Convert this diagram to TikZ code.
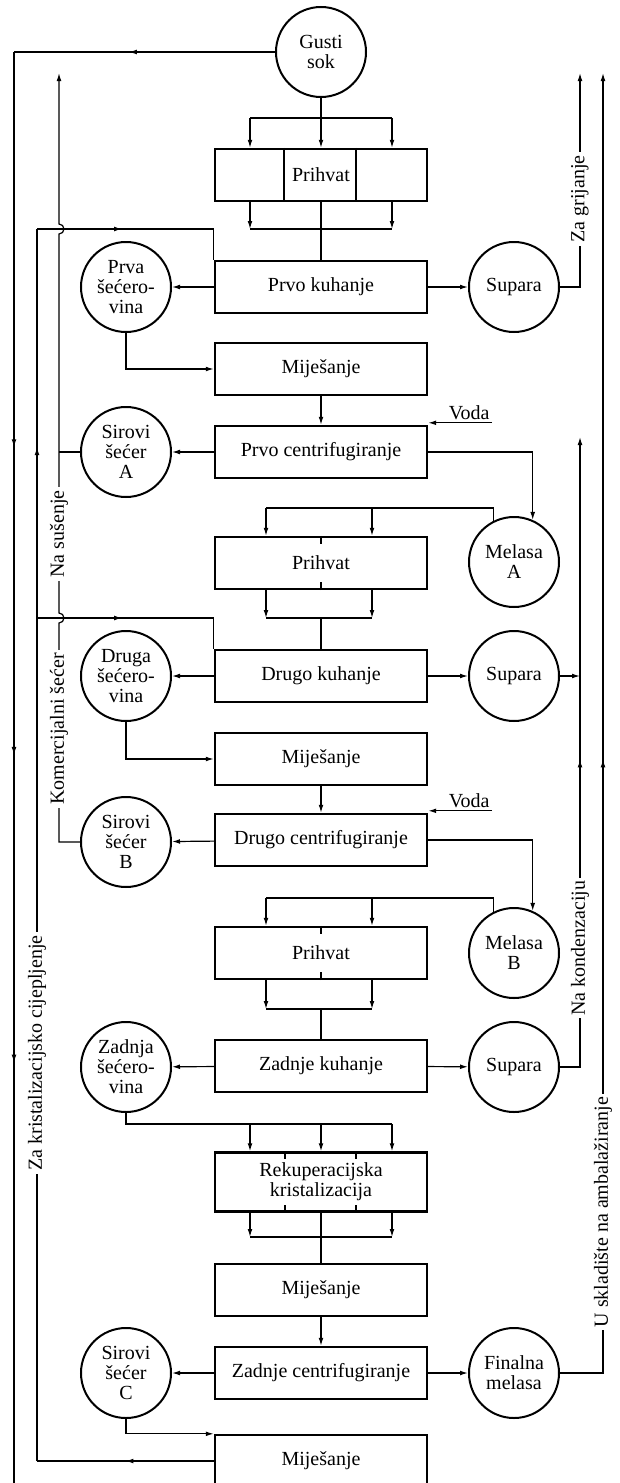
\documentclass[tikz,border=0pt]{standalone}
\usepackage{fontspec}
\setmainfont{Liberation Serif}
\usetikzlibrary{arrows.meta,decorations.markings}

\begin{document}
\begin{tikzpicture}[x=0.5pt,y=-0.5pt,line width=0.6pt,
  font=\fontsize{10}{10}\selectfont,
  box/.style={draw,line width=1.2pt,minimum width=106pt,minimum height=26pt,inner sep=0pt,align=center},
  tank/.style={draw,circle,line width=1pt,minimum size=45pt,inner sep=0pt,align=center},
  lab/.style={fill=white,inner sep=1.5pt,rotate=90},
  arr/.style={-{Latex[length=4pt,width=2.4pt]}},
  mid/.style={postaction={decorate},decoration={markings,
    mark=at position #1 with {\arrow{Latex[length=4pt,width=2.4pt]}}}}]
\useasboundingbox (0,0) rectangle (620,1483);
\clip (0,0) rectangle (620,1483);

% main column
\node[box] (prihA) at (321,175) {Prihvat};
\node[box] (kuhA) at (321,287) {Prvo kuhanje};
\node[box] (mijA) at (321,369) {Miješanje};
\node[box] (cenA) at (321,452) {Prvo centrifugiranje};
\node[box] (prihB) at (321,563) {Prihvat};
\node[box] (kuhB) at (321,676) {Drugo kuhanje};
\node[box] (mijB) at (321,759) {Miješanje};
\node[box] (cenB) at (321,840) {Drugo centrifugiranje};
\node[box] (prihC) at (321,953) {Prihvat};
\node[box] (kuhC) at (321,1066) {Zadnje kuhanje};
\node[box,minimum height=29.5pt] (rek) at (321,1182) {Rekuperacijska\\kristalizacija};
\node[box] (mijC) at (321,1290) {Miješanje};
\node[box] (cenC) at (321,1373) {Zadnje centrifugiranje};
\node[box] (mijD) at (321,1461) {Miješanje};

% tanks
\node[tank] (gusti) at (321,52) {Gusti\\sok};
\node[tank] (secA) at (126,287) {Prva\\šećero-\\vina};
\node[tank] (supA) at (514,287) {Supara};
\node[tank] (sirA) at (126,452) {Sirovi\\šećer\\A};
\node[tank] (melA) at (514,562) {Melasa\\A};
\node[tank] (secB) at (126,676) {Druga\\šećero-\\vina};
\node[tank] (supB) at (514,676) {Supara};
\node[tank] (sirB) at (126,842) {Sirovi\\šećer\\B};
\node[tank] (melB) at (514,953) {Melasa\\B};
\node[tank] (secC) at (126,1067) {Zadnja\\šećero-\\vina};
\node[tank] (supC) at (514,1067) {Supara};
\node[tank] (sirC) at (126,1373) {Sirovi\\šećer\\C};
\node[tank] (finm) at (514,1373) {Finalna\\melasa};

% first receiver
\foreach \x in {284,356}
  \draw[line width=1.2pt] (\x,0 |- prihA.north) -- (\x,0 |- prihA.south);
\draw (gusti) -- (321,118);
\draw (250,118) -- (392,118);
\foreach \x in {250,321,392}
  \draw[arr] (\x,118) -- (\x,0 |- prihA.north);
\foreach \x in {250,392}
  \draw[arr] (\x,0 |- prihA.south) -- (\x,229);
\draw (250,229) -- (392,229);
\draw (prihA) -- (kuhA);

% boiling, mixing, centrifuges
\foreach \k/\s/\p in {kuhA/secA/supA,kuhB/secB/supB,kuhC/secC/supC}{
  \draw[arr] (\k) -- (\s);
  \draw[arr] (\k) -- (\p);
}
\foreach \s/\m/\c/\r in {secA/mijA/cenA/sirA,secB/mijB/cenB/sirB}{
  \draw[arr] (\s.south) |- (\m.west);
  \draw[arr] (\m) -- (\c);
  \draw[arr] (\c) -- (\r);
}

% water
\node[anchor=south,inner sep=1pt] (vodaA) at ([xshift=20.5pt,yshift=1pt]cenA.north east) {Voda};
\draw[arr] (vodaA.south east) -- (vodaA.south east -| cenA.east);
\node[anchor=south,inner sep=1pt] (vodaB) at ([xshift=20.5pt,yshift=1pt]cenB.north east) {Voda};
\draw[arr] (vodaB.south east) -- (vodaB.south east -| cenB.east);

% molasses to the next receivers
\draw[arr] (cenA.east) -| (melA.66);
\draw (melA.116) |- (266,508);
\draw[arr] (cenB.east) -| (melB.66);
\draw (melB.116) |- (266,898);
\foreach \b/\t/\u in {prihB/508/618,prihC/898/1009}{
  \foreach \x in {266,372}{
    \draw[arr] (\x,\t) -- (\x,0 |- \b.north);
    \draw[arr] (\x,0 |- \b.south) -- (\x,\u);
  }
  \draw (266,\u) -- (372,\u);
  \draw[line width=0.9pt] (\b.north) -- ++(0,8);
  \draw[line width=0.9pt] (\b.south) -- ++(0,-8);
}
\draw (321,618) -- (kuhB);
\draw (321,1009) -- (kuhC);

% recovery crystallisation
\draw (secC.south) |- (392,1124);
\foreach \x in {250,321,392}
  \draw[arr] (\x,1124) -- (\x,0 |- rek.north);
\foreach \x in {285,356}{
  \draw[line width=0.9pt] (\x,0 |- rek.north) -- ++(0,8);
  \draw[line width=0.9pt] (\x,0 |- rek.south) -- ++(0,-8);
}
\foreach \x in {250,392}
  \draw[arr] (\x,0 |- rek.south) -- (\x,1237);
\draw (250,1237) -- (392,1237);
\draw (rek) -- (mijC);
\draw[arr] (mijC) -- (cenC);
\draw[arr] (cenC) -- (sirC);
\draw[arr] (cenC) -- (finm);
\draw[arr] (sirC.south) |- (mijD.north west);

% left side lines
\draw[mid=0.56] (gusti.west) -- (14,52);
\draw[postaction={decorate},decoration={markings,
  mark=between positions 0.273 and 0.71 step 0.2125 with {\arrow{Latex[length=4pt,width=2.4pt]}}}]
  (14,52) -- (14,1500);
\draw[mid=0.5] (mijD.west) -- (37,1461);
\draw[mid=0.823] (37,1461) -- (37,229);
\draw[mid=0.41] (37,229) -| (kuhA.north west);
\draw[mid=0.41] (37,618) -| (kuhB.north west);
\node[lab] (cijep) at (37,1053) {Za kristalizacijsko cijepljenje};
\draw[arr] (sirB.west) -- (59,842) -- (59,623) arc(-90:90:2.5pt)
  -- (59,234) arc(-90:90:2.5pt) -- (59,73);
\draw (sirA.west) -- (59,452);
\node[lab] (susenje) at (59,534) {Na sušenje};
\node[lab] (komerc) at (59,729) {Komercijalni šećer};

% right side lines
\draw[arr] (supA.east) -| (580,73);
\node[lab] (grij) at (580,199) {Za grijanje};
\draw[arr,mid=0.504] (supC.east) -| (580,437);
\draw[arr] (supB.east) -- (580,676);
\node[lab] (konden) at (580,948) {Na kondenzaciju};
\draw[arr,mid=0.489] (finm.east) -| (603,73);
\node[lab] (sklad) at (603,1212) {U skladište na ambalažiranje};
\end{tikzpicture}
\end{document}
